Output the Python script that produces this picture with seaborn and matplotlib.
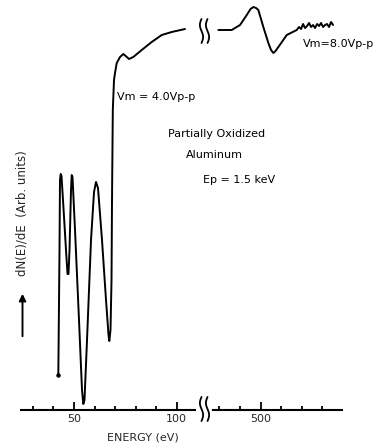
import numpy as np
import pandas as pd
import matplotlib
matplotlib.use("Agg")
import matplotlib.pyplot as plt
import seaborn as sns
from matplotlib.lines import Line2D

sns.set_theme(style="white")
plt.rcParams['font.family'] = ['DejaVu Sans']

# ---- data ----
# low-energy segment (Al LVV region), energy in eV, dN/dE in arbitrary units
low_energy = [42.36, 42.94, 43.18, 43.52, 43.91, 44.64, 46.10, 46.84, 47.32, 47.81,
              48.54, 48.88, 49.27, 50.49, 52.43, 53.89, 54.53, 55.11, 56.33, 58.28,
              59.74, 60.71, 61.68, 63.63, 65.58, 66.80, 67.19, 67.77, 68.26, 68.50,
              68.89, 69.47, 69.96, 70.79, 72.40, 74.00, 75.17, 76.78, 78.87, 82.96,
              87.83, 92.70, 97.57, 104.04]
low_signal = [35, 160, 230, 236, 234, 210, 160, 136, 136, 160,
              220, 235, 233, 180, 90, 20, 6, 10, 70, 170,
              218, 228, 222, 170, 110, 75, 69, 80, 130, 210,
              300, 330, 337, 347, 353, 356, 354, 351, 353, 360,
              368, 375, 378, 381]

# high-energy segment (O KLL region)
high_energy = [479.45, 485.98, 490.02, 493.28, 495.13, 496.49, 497.81, 498.93, 501.36,
               503.80, 505.11, 506.23, 507.30, 508.67, 512.76, 517.62, 518.74, 519.72,
               520.69, 521.66, 522.64, 523.61, 524.59, 525.56, 526.53, 527.51, 528.48,
               529.46, 530.43, 531.40, 532.38, 533.35, 534.32, 535.30]
high_signal = [380, 380, 385, 395, 401, 403, 402, 400, 383,
               367, 360, 357, 359, 363, 375, 380, 383, 381,
               386, 382, 384, 387, 383, 385, 382, 386, 384,
               387, 383, 385, 386, 383, 388, 385]

low_major = [50, 100]
low_minor = [30, 40, 60, 70, 80, 90]
high_major = [500]
high_minor = [480, 490, 510, 520, 530]

df_low = pd.DataFrame({"energy": low_energy, "signal": low_signal})
df_high = pd.DataFrame({"energy": high_energy, "signal": high_signal})

# ---- figure ----
W, H = 384, 448
fig = plt.figure(figsize=(W / 100, H / 100), dpi=100)
fig.patch.set_facecolor("white")

base_px = 410.0
top_px = 0.0


def ax_rect(x0, x1):
    return [x0 / W, (H - base_px) / H, (x1 - x0) / W, (base_px - top_px) / H]


ax1 = fig.add_axes(ax_rect(20.7, 195.0))
ax2 = fig.add_axes(ax_rect(213.3, 341.7))

lw = 1.4
for ax, df in ((ax1, df_low), (ax2, df_high)):
    sns.lineplot(data=df, x="energy", y="signal", ax=ax, sort=False,
                 estimator=None, color="black", lw=lw)
    ax.set_ylim(0, base_px - top_px)
    ax.set_facecolor("none")
    for s in ("left", "right", "top"):
        ax.spines[s].set_visible(False)
    ax.spines["bottom"].set_color("black")
    ax.spines["bottom"].set_linewidth(1.5)
    ax.set_yticks([])
    ax.set_ylabel("")
    ax.set_xlabel("")
    ax.tick_params(axis="x", which="major", direction="in", length=5.5, width=1.3,
                   color="black", labelsize=8, pad=3, bottom=True)
    ax.tick_params(axis="x", which="minor", direction="in", length=3.2, width=1.3,
                   color="black", bottom=True)
    for ln in ax.lines:
        ln.set_clip_on(False)

# start dot of the trace
ax1.plot([low_energy[0]], [low_signal[0]], marker="o", ms=2.2, color="black", clip_on=False)

ax1.set_xlim(24.05, 108.9)
ax2.set_xlim(477.0, 539.5)
ax1.set_xticks(low_major)
ax1.set_xticks(low_minor, minor=True)
ax1.set_xticklabels([str(v) for v in low_major])
ax2.set_xticks(high_major)
ax2.set_xticks(high_minor, minor=True)
ax2.set_xticklabels([str(v) for v in high_major])

# axis labels
ax1.set_xlabel("ENERGY (eV)", fontsize=8)
ax1.xaxis.set_label_coords((143 - 20.7) / (195 - 20.7), -(437 - base_px) / base_px)
ax1.xaxis.label.set_va("center")

ax1.set_ylabel("dN(E)/dE  (Arb. units)", fontsize=8.5)
ax1.yaxis.set_label_coords((22.5 - 20.7) / (195 - 20.7), (base_px - 213) / base_px)
ax1.yaxis.label.set_va("center")
ax1.yaxis.label.set_ha("center")

# arrow below y label
fig.add_artist(matplotlib.patches.FancyArrowPatch(
    (22.5 / W, (H - 339) / H), (22.5 / W, (H - 291) / H),
    transform=fig.transFigure, arrowstyle="-|>,head_length=4,head_width=2",
    color="black", lw=1.4))

# annotations
def ftext(px, py, s, **kw):
    fig.text(px / W, (H - py) / H, s, fontsize=8, color="black", va="center", **kw)

ftext(117, 97, "Vm = 4.0Vp-p", ha="left")
ftext(303, 44, "Vm=8.0Vp-p", ha="left")
ftext(217, 134, "Partially Oxidized", ha="center")
ftext(214, 155, "Aluminum", ha="center")
ftext(203, 180, "Ep = 1.5 keV", ha="left")

# break marks (decoration)
def brk(xc, yc, h=24, w=1.6):
    s = np.linspace(0, 1, 40)
    xs = xc - w * np.sin(2 * np.pi * s)
    ys = yc - h / 2 + h * s
    fig.add_artist(Line2D(xs / W, (H - ys) / H, transform=fig.transFigure,
                          color="black", lw=1.3))

for xc in (201.5, 207.5):
    brk(xc, 31)
    brk(xc, 409)

fig.savefig("out.png", dpi=100, facecolor="white")
